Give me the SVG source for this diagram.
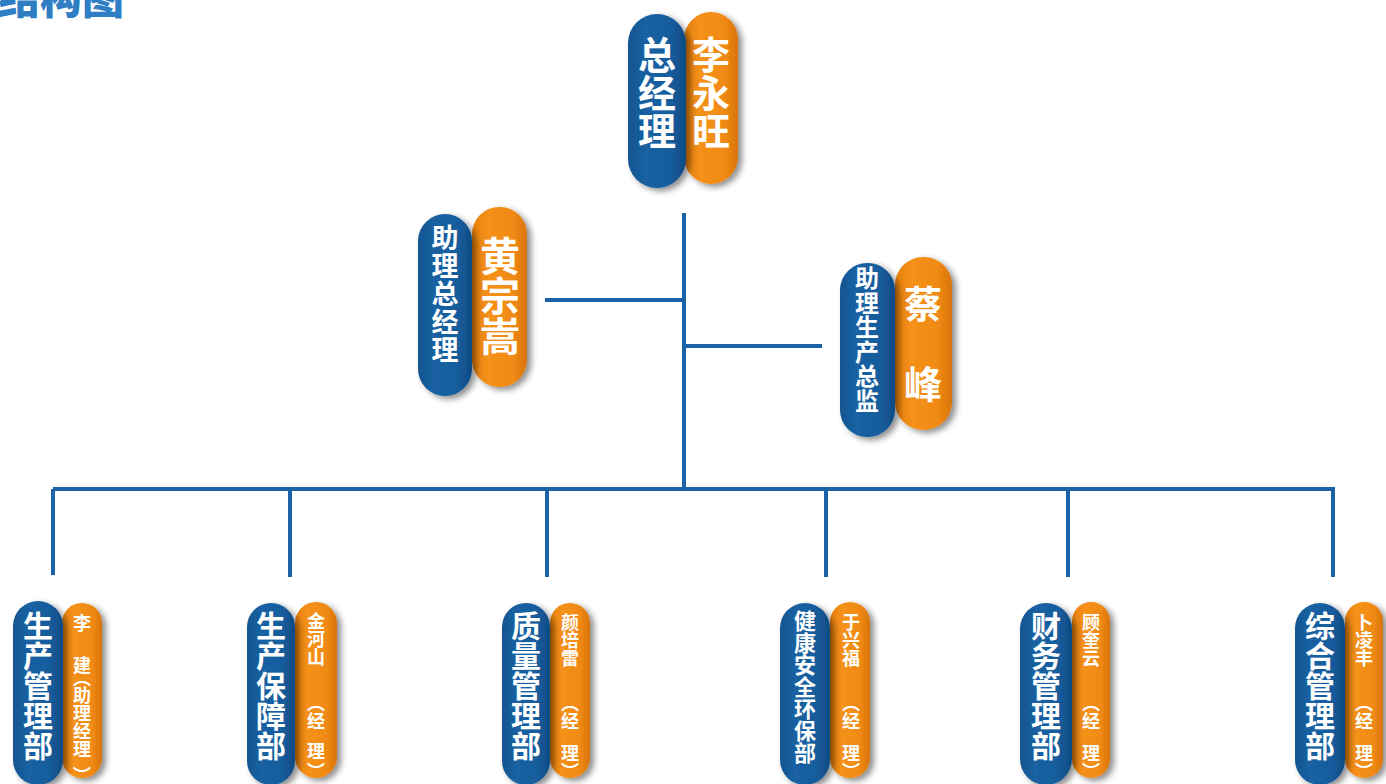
<svg xmlns="http://www.w3.org/2000/svg" width="1386" height="784" viewBox="0 0 1386 784">
<style>
.b{fill:url(#gb);filter:url(#sh)}
.o{fill:url(#go);filter:url(#sh)}
.t{font-family:"Noto Sans CJK SC","Noto Sans",sans-serif;font-weight:700;fill:#fff;writing-mode:vertical-rl}
.ln{stroke:#1c62a6;stroke-width:4;fill:none}
</style>
<defs>
<linearGradient id="gb" x1="0" y1="0" x2="1" y2="0">
<stop offset="0" stop-color="#12548f"/><stop offset="0.3" stop-color="#1a62a3"/><stop offset="0.75" stop-color="#175c9c"/><stop offset="1" stop-color="#0e4a82"/>
</linearGradient>
<linearGradient id="go" x1="0" y1="0" x2="1" y2="0">
<stop offset="0" stop-color="#e67f0c"/><stop offset="0.3" stop-color="#f5911a"/><stop offset="0.75" stop-color="#f08a14"/><stop offset="1" stop-color="#d8740a"/>
</linearGradient>
<filter id="sh" x="-30%" y="-10%" width="160%" height="120%">
<feDropShadow dx="4" dy="3" stdDeviation="3" flood-color="#000" flood-opacity="0.45"/>
</filter>
</defs>
<text x="-2" y="14" style="font-family:'Noto Sans CJK SC',sans-serif;font-weight:900;font-size:42px;fill:#2f7ec4">结构图</text>
<g id="connectors">
<path class="ln" d="M684 213V489"/>
<path class="ln" d="M545 300H684"/>
<path class="ln" d="M684 346H822"/>
<path class="ln" d="M53 489H1335"/>
<path class="ln" d="M53 489V575M290 489V577M547 489V577M826 489V577M1068 489V577M1333 489V577"/>
</g>
<g id="gm">
<rect class="o" x="684" y="12" width="54" height="172" rx="27"/>
<rect class="b" x="628" y="14" width="58" height="174" rx="29"/>
<text class="t" x="657" y="36" style="font-size:38px">总经理</text>
<text class="t" x="711" y="36" style="font-size:38px">李永旺</text>
</g>
<g id="a1">
<rect class="o" x="472" y="207" width="55" height="180" rx="27"/>
<rect class="b" x="418" y="214" width="54" height="182" rx="27"/>
<text class="t" x="445" y="224" style="font-size:27px;letter-spacing:1px">助理总经理</text>
<text class="t" x="500" y="236" style="font-size:40px">黄宗嵩</text>
</g>
<g id="a2">
<rect class="o" x="895" y="257" width="57" height="173" rx="28"/>
<rect class="b" x="840" y="263" width="55" height="174" rx="27"/>
<text class="t" x="867" y="266" style="font-size:24px;letter-spacing:0.5px">助理生产总监</text>
<text class="t" x="923" style="font-size:38px"><tspan y="285">蔡</tspan><tspan y="365">峰</tspan></text>
</g>
<g id="d1">
<rect class="o" x="62" y="603" width="40" height="175" rx="20"/>
<rect class="b" x="13" y="601" width="50" height="184" rx="25"/>
<text class="t" x="38" y="611" style="font-size:30px">生产管理部</text>
<text class="t" x="82" style="font-size:18px"><tspan y="614">李</tspan><tspan y="656">建</tspan><tspan y="669">（</tspan><tspan y="686">助理经理</tspan><tspan y="766">）</tspan></text>
</g>
<g id="d2">
<rect class="o" x="295" y="602" width="42" height="176" rx="21"/>
<rect class="b" x="247" y="603" width="48" height="182" rx="24"/>
<text class="t" x="271" y="611" style="font-size:30px">生产保障部</text>
<text class="t" x="316" style="font-size:18px"><tspan y="612">金河山</tspan><tspan y="694">（</tspan><tspan y="712">经</tspan><tspan y="742">理</tspan><tspan y="762">）</tspan></text>
</g>
<g id="d3">
<rect class="o" x="550" y="603" width="40" height="175" rx="20"/>
<rect class="b" x="502" y="603" width="48" height="182" rx="24"/>
<text class="t" x="526" y="611" style="font-size:30px">质量管理部</text>
<text class="t" x="570" style="font-size:18px"><tspan y="613">颜培雷</tspan><tspan y="694">（</tspan><tspan y="712">经</tspan><tspan y="744">理</tspan><tspan y="762">）</tspan></text>
</g>
<g id="d4">
<rect class="o" x="830" y="602" width="40" height="176" rx="20"/>
<rect class="b" x="780" y="603" width="50" height="182" rx="25"/>
<text class="t" x="805" y="610" style="font-size:22px">健康安全环保部</text>
<text class="t" x="851" style="font-size:18px"><tspan y="613">于兴福</tspan><tspan y="694">（</tspan><tspan y="712">经</tspan><tspan y="744">理</tspan><tspan y="762">）</tspan></text>
</g>
<g id="d5">
<rect class="o" x="1072" y="602" width="38" height="176" rx="19"/>
<rect class="b" x="1020" y="603" width="52" height="182" rx="26"/>
<text class="t" x="1046" y="611" style="font-size:30px">财务管理部</text>
<text class="t" x="1091" style="font-size:18px"><tspan y="613">顾奎云</tspan><tspan y="694">（</tspan><tspan y="712">经</tspan><tspan y="744">理</tspan><tspan y="762">）</tspan></text>
</g>
<g id="d6">
<rect class="o" x="1345" y="602" width="38" height="176" rx="19"/>
<rect class="b" x="1295" y="603" width="50" height="182" rx="25"/>
<text class="t" x="1320" y="611" style="font-size:30px">综合管理部</text>
<text class="t" x="1364" style="font-size:18px"><tspan y="613">卜凌丰</tspan><tspan y="694">（</tspan><tspan y="712">经</tspan><tspan y="744">理</tspan><tspan y="762">）</tspan></text>
</g>
</svg>
